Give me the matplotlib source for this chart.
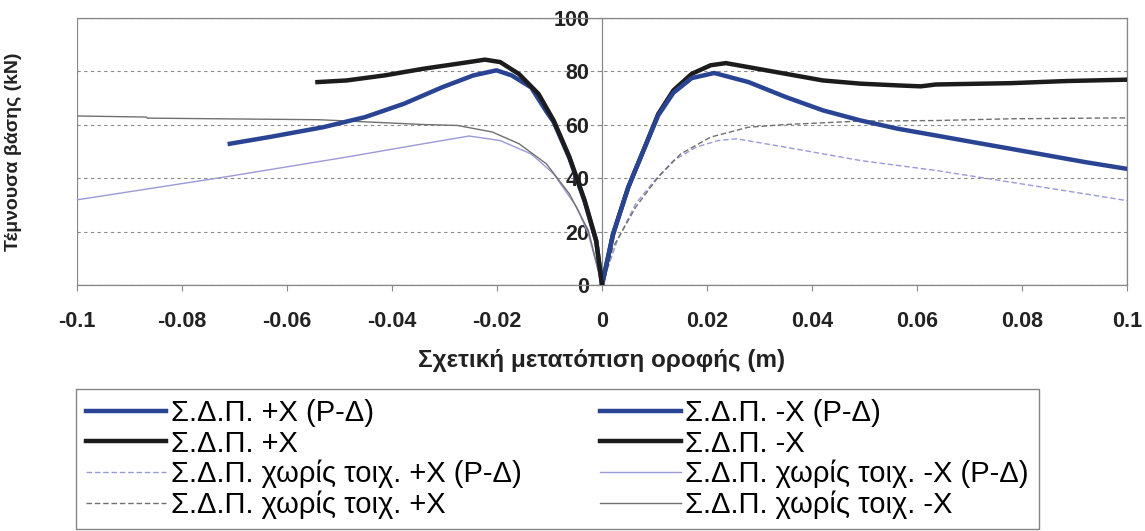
import matplotlib
matplotlib.use('Agg')
import matplotlib.pyplot as plt
from matplotlib.patches import Rectangle

plt.rcParams['font.family'] = ['Liberation Sans', 'DejaVu Sans']

# +X direction (positive displacement)
px_pd_x = [0, 0.0021, 0.005, 0.0079, 0.0107, 0.0136, 0.0171, 0.0207, 0.0214, 0.0279, 0.035, 0.0421,
           0.0493, 0.0564, 0.0636, 0.0707, 0.0779, 0.085, 0.0921, 0.1]
px_pd_y = [0, 19, 36.6, 50.4, 63.5, 72.0, 77.5, 79.1, 79.4, 76, 70.4, 65.4,
           61.6, 58.5, 56, 53.5, 51, 48.5, 46, 43.5]
px_x = [0, 0.0021, 0.005, 0.0079, 0.0107, 0.0136, 0.0171, 0.0207, 0.0236, 0.0279, 0.035, 0.0421,
        0.0493, 0.0564, 0.0607, 0.0636, 0.0779, 0.0886, 0.1]
px_y = [0, 19, 36.6, 50.4, 64, 72.9, 79.1, 82.3, 83.1, 81.6, 79.1, 76.6,
        75.4, 74.75, 74.4, 75.1, 75.6, 76.4, 76.9]
px_nw_pd_x = [0, 0.0029, 0.0064, 0.01, 0.0136, 0.0179, 0.0221, 0.0257, 0.035, 0.0493, 0.0636, 0.0779, 0.0921, 0.1]
px_nw_pd_y = [0, 16.6, 30.4, 39.1, 46.6, 51.6, 54.1, 54.75, 51.6, 46.6, 42.9, 38.5, 34.1, 31.6]
px_nw_x = [0, 0.0021, 0.0064, 0.0107, 0.015, 0.0207, 0.0279, 0.035, 0.0493, 0.0636, 0.0779, 0.1]
px_nw_y = [0, 14.1, 29.1, 40.4, 49.1, 55.4, 59.1, 60.1, 61.4, 61.6, 62.25, 62.6]

# -X direction (negative displacement)
mx_pd_x = [-0.0709, -0.0634, -0.0531, -0.0451, -0.0377, -0.0304, -0.0245, -0.0201, -0.0172, -0.0135,
           -0.0106, -0.0092, -0.0062, -0.0033, -0.0011, 0]
mx_pd_y = [52.9, 55.4, 59.1, 62.9, 67.9, 74.1, 78.5, 80.4, 78.5, 74, 65, 61, 47.5, 31.3, 16.4, 0]
mx_x = [-0.0542, -0.0487, -0.0414, -0.034, -0.0267, -0.0223, -0.0194, -0.0158, -0.0121, -0.0092,
        -0.0062, -0.0033, -0.0011, 0]
mx_y = [76, 76.6, 78.5, 81, 83.1, 84.4, 83.5, 79, 71.6, 61.6, 47.9, 31.6, 16.6, 0]
mx_nw_pd_x = [-0.1, -0.072, -0.0487, -0.034, -0.0253, -0.0194, -0.0135, -0.0092, -0.0048, -0.0026, 0]
mx_nw_pd_y = [31.9, 40.4, 47.9, 52.9, 55.8, 54.1, 49.1, 41.6, 29.1, 19.1, 0]
mx_nw_x = [-0.1, -0.0868, -0.0866, -0.0538, -0.034, -0.0275, -0.0209, -0.0158, -0.0106, -0.0062, -0.0026, 0]
mx_nw_y = [63.3, 62.9, 62.5, 61.9, 60.1, 59.75, 57.3, 52.9, 45.4, 34.1, 20.4, 0]

blue = '#2a4494'
black = '#1c1c1c'
lblue = '#9a9ad8'
gray = '#707070'

fig = plt.figure(figsize=(11.45, 5.31), dpi=100)
ax = fig.add_axes([77 / 1145, 1 - 285 / 531, 1050 / 1145, 267 / 531])

h1, = ax.plot(px_pd_x, px_pd_y, color=blue, lw=3.2, label='Σ.Δ.Π. +X (P-Δ)', zorder=4)
h2, = ax.plot(px_x, px_y, color=black, lw=3.2, label='Σ.Δ.Π. +X', zorder=3)
h3, = ax.plot(px_nw_pd_x, px_nw_pd_y, color=lblue, lw=1.0, ls=(0, (4, 2)), label='Σ.Δ.Π. χωρίς τοιχ. +X (P-Δ)')
h4, = ax.plot(px_nw_x, px_nw_y, color=gray, lw=1.0, ls=(0, (4, 2)), label='Σ.Δ.Π. χωρίς τοιχ. +X')
h5, = ax.plot(mx_pd_x, mx_pd_y, color=blue, lw=3.2, label='Σ.Δ.Π. -X (P-Δ)', zorder=3)
h6, = ax.plot(mx_x, mx_y, color=black, lw=3.2, label='Σ.Δ.Π. -X', zorder=4)
h7, = ax.plot(mx_nw_pd_x, mx_nw_pd_y, color=lblue, lw=1.0, label='Σ.Δ.Π. χωρίς τοιχ. -X (P-Δ)')
h8, = ax.plot(mx_nw_x, mx_nw_y, color=gray, lw=1.0, label='Σ.Δ.Π. χωρίς τοιχ. -X')

ax.set_xlim(-0.1, 0.1)
ax.set_ylim(0, 100)
ax.set_xticks([-0.1, -0.08, -0.06, -0.04, -0.02, 0, 0.02, 0.04, 0.06, 0.08, 0.1])
ax.set_xticklabels(['-0.1', '-0.08', '-0.06', '-0.04', '-0.02', '0', '0.02', '0.04', '0.06', '0.08', '0.1'])
ax.set_yticks([0, 20, 40, 60, 80, 100])

# y axis sits at x = 0
ax.spines['left'].set_position(('data', 0))
for s in ['left', 'bottom', 'top', 'right']:
    ax.spines[s].set_color('#888888')
    ax.spines[s].set_linewidth(0.9)
ax.add_patch(Rectangle((0, 0), 1, 1, transform=ax.transAxes, fill=False, ec='#888888', lw=0.9, zorder=0))

ax.grid(axis='y', ls=(0, (3, 3)), color='#8a8a8a', lw=0.8)
ax.tick_params(axis='x', direction='out', length=4, pad=15, labelsize=15.5, colors='#888888', labelcolor='#222222')
ax.tick_params(axis='y', direction='out', length=3, pad=6, labelsize=15.5, colors='#888888', labelcolor='#222222')
for t in ax.get_xticklabels() + ax.get_yticklabels():
    t.set_fontweight('bold')

ax.set_xlabel('Σχετική μετατόπιση οροφής (m)', fontsize=17.5, fontweight='bold', labelpad=12, color='#222222')
ax.set_ylabel('Τέμνουσα βάσης (kN)', fontsize=14, fontweight='bold', color='#222222')
ax.yaxis.set_label_coords(-0.052, 0.5)

leg = fig.legend(handles=[h1, h2, h3, h4, h5, h6, h7, h8], ncol=2, loc='upper left',
                 bbox_to_anchor=(76 / 1145, 1 - 389 / 531),
                 fontsize=21, frameon=True, fancybox=False, edgecolor='#666666',
                 handlelength=2.75, handletextpad=0.15, labelspacing=0.08, borderpad=0.35,
                 borderaxespad=0, columnspacing=2.7)
leg.get_frame().set_linewidth(1.0)

fig.savefig('out.png', dpi=100)
